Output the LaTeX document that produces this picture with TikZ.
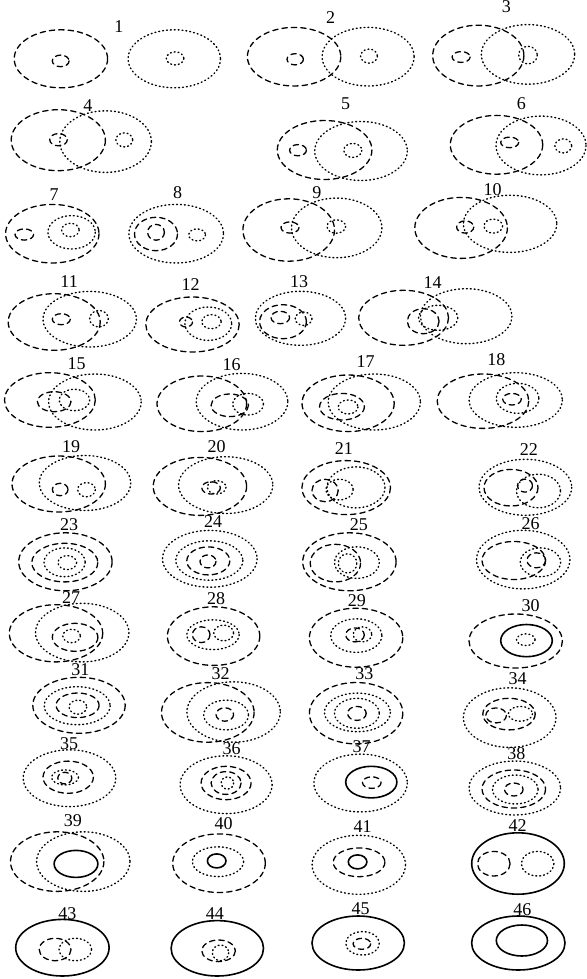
\documentclass[tikz,border=0pt]{standalone}
\usepackage{fontspec}
\setmainfont{Liberation Serif}
\begin{document}
\begin{tikzpicture}[x=0.5pt,y=-0.5pt,line cap=round,
  dsh/.style={line width=0.65pt,dash pattern=on 2.7pt off 2.0pt},
  dot/.style={line width=0.7pt,dash pattern=on 0.45pt off 1.5pt},
  sld/.style={line width=0.8pt},
  lbl/.style={inner sep=0pt,font=\fontsize{9}{10}\selectfont}]
  \useasboundingbox (0,0) rectangle (586,979);
  % row 1
  \node[lbl] (n1) at (118.8,26.3) {1};
  \draw[dsh] (60.9,58.8) ellipse (46.7 and 29.0);
  \draw[dsh] (60.7,60.9) ellipse (8.4 and 5.8);
  \draw[dot] (174.3,58.8) ellipse (46.2 and 29.0);
  \draw[dot] (175.1,58.4) ellipse (8.8 and 6.5);
  \node[lbl] (n2) at (330.7,17.5) {2};
  \draw[dsh] (294.1,56.7) ellipse (46.7 and 29.3);
  \draw[dsh] (295.2,59.3) ellipse (8.2 and 5.6);
  \draw[dot] (368.1,56.7) ellipse (46.0 and 29.3);
  \draw[dot] (369.0,56.1) ellipse (8.4 and 7.0);
  \node[lbl] (n3) at (506.3,7.0) {3};
  \draw[dsh] (478.3,55.6) ellipse (45.6 and 30.4);
  \draw[dsh] (461.1,57.0) ellipse (9.0 and 5.4);
  \draw[dot] (528.0,54.4) ellipse (46.7 and 29.8);
  \draw[dot] (528.0,55.1) ellipse (9.3 and 8.8);
  % row 2
  \node[lbl] (n4) at (87.8,105.5) {4};
  \draw[dsh] (58.3,140.2) ellipse (47.1 and 30.5);
  \draw[dsh] (58.5,139.7) ellipse (8.8 and 6.1);
  \draw[dot] (105.6,141.6) ellipse (45.8 and 30.8);
  \draw[dot] (124.3,139.9) ellipse (8.4 and 7.0);
  \node[lbl] (n5) at (345.7,103.8) {5};
  \draw[dsh] (324.6,150.0) ellipse (47.3 and 29.5);
  \draw[dsh] (298.0,150.2) ellipse (8.4 and 5.6);
  \draw[dot] (361.0,151.0) ellipse (46.3 and 29.5);
  \draw[dot] (352.8,150.4) ellipse (9.0 and 7.0);
  \node[lbl] (n6) at (521.3,103.8) {6};
  \draw[dsh] (496.5,144.8) ellipse (46.2 and 29.4);
  \draw[dsh] (509.7,142.4) ellipse (9.0 and 5.3);
  \draw[dot] (541.0,145.5) ellipse (45.0 and 29.4);
  \draw[dot] (563.3,145.9) ellipse (8.4 and 7.0);
  % row 3
  \node[lbl] (n7) at (54.2,194.5) {7};
  \draw[dsh] (52.3,233.7) ellipse (46.7 and 29.3);
  \draw[dsh] (24.3,234.5) ellipse (9.3 and 5.6);
  \draw[dot] (71.6,232.3) ellipse (23.7 and 16.7);
  \draw[dot] (70.4,230.0) ellipse (8.8 and 6.7);
  \node[lbl] (n8) at (177.5,192.8) {8};
  \draw[dot] (176.2,233.7) ellipse (47.3 and 29.3);
  \draw[dsh] (156.0,234.0) ellipse (21.5 and 16.7);
  \draw[dsh] (156.0,232.3) ellipse (8.4 and 7.9);
  \draw[dot] (197.1,234.9) ellipse (8.4 and 6.0);
  \node[lbl] (n9) at (316.9,192.8) {9};
  \draw[dsh] (288.7,230.0) ellipse (45.8 and 31.2);
  \draw[dsh] (290.0,227.5) ellipse (9.0 and 5.6);
  \draw[dot] (336.7,227.9) ellipse (45.2 and 29.8);
  \draw[dot] (336.3,226.5) ellipse (9.3 and 6.7);
  \node[lbl] (n10) at (492.5,189.3) {10};
  \draw[dsh] (461.1,227.9) ellipse (46.3 and 30.5);
  \draw[dsh] (465.2,227.0) ellipse (8.6 and 6.1);
  \draw[dot] (510.1,223.8) ellipse (46.7 and 28.6);
  \draw[dot] (493.3,226.1) ellipse (9.3 and 7.0);
  % row 4
  \node[lbl] (n11) at (69.1,281.3) {11};
  \draw[dsh] (54.2,322.0) ellipse (46.0 and 28.3);
  \draw[dsh] (61.3,319.2) ellipse (9.0 and 5.5);
  \draw[dot] (89.7,319.2) ellipse (46.7 and 27.8);
  \draw[dot] (99.0,318.7) ellipse (9.3 and 8.3);
  \node[lbl] (n12) at (190.6,284.7) {12};
  \draw[dsh] (192.5,324.5) ellipse (46.7 and 27.5);
  \draw[dsh] (186.0,322.0) ellipse (6.5 and 5.0);
  \draw[dot] (208.3,323.7) ellipse (23.4 and 16.7);
  \draw[dot] (211.5,321.7) ellipse (9.7 and 7.0);
  \node[lbl] (n13) at (299.0,281.3) {13};
  \draw[dot] (300.5,318.3) ellipse (45.2 and 27.0);
  \draw[dsh] (283.0,321.7) ellipse (23.4 and 17.0);
  \draw[dsh] (280.3,317.5) ellipse (9.3 and 6.2);
  \draw[dot] (303.6,318.7) ellipse (8.4 and 6.7);
  \node[lbl] (n14) at (432.7,282.7) {14};
  \draw[dsh] (403.6,317.8) ellipse (44.9 and 27.5);
  \draw[dot] (466.2,316.2) ellipse (45.8 and 27.5);
  \draw[dsh] (423.2,321.2) ellipse (15.9 and 12.5);
  \draw[dot] (438.2,317.8) ellipse (19.6 and 12.5);
  % row 5
  \node[lbl] (n15) at (76.6,363.3) {15};
  \draw[dsh] (49.9,400.0) ellipse (45.4 and 27.3);
  \draw[dot] (94.9,402.0) ellipse (46.3 and 28.0);
  \draw[dsh] (54.2,401.7) ellipse (16.8 and 10.0);
  \draw[dot] (74.4,400.0) ellipse (15.3 and 10.7);
  \node[lbl] (n16) at (231.7,365.0) {16};
  \draw[dsh] (201.8,403.8) ellipse (44.8 and 27.8);
  \draw[dot] (242.0,401.7) ellipse (45.8 and 28.3);
  \draw[dsh] (229.8,405.3) ellipse (18.7 and 11.3);
  \draw[dot] (248.0,404.2) ellipse (15.5 and 10.8);
  \node[lbl] (n17) at (365.5,361.7) {17};
  \draw[dsh] (348.1,403.3) ellipse (46.1 and 28.3);
  \draw[dot] (374.3,402.0) ellipse (46.1 and 28.0);
  \draw[dsh] (342.0,406.7) ellipse (22.4 and 13.3);
  \draw[dot] (348.1,407.0) ellipse (9.9 and 7.0);
  \node[lbl] (n18) at (496.3,360.0) {18};
  \draw[dsh] (483.0,401.2) ellipse (45.8 and 27.2);
  \draw[dot] (515.7,400.0) ellipse (46.7 and 27.3);
  \draw[dot] (517.6,398.3) ellipse (21.3 and 15.0);
  \draw[dsh] (512.0,399.2) ellipse (9.3 and 5.8);
  % row 6
  \node[lbl] (n19) at (71.0,446.5) {19};
  \draw[dsh] (58.7,484.0) ellipse (46.7 and 28.0);
  \draw[dot] (85.0,483.0) ellipse (45.8 and 27.5);
  \draw[dsh] (60.2,489.5) ellipse (7.8 and 6.2);
  \draw[dot] (86.5,489.7) ellipse (8.8 and 7.1);
  \node[lbl] (n20) at (216.7,446.2) {20};
  \draw[dsh] (199.9,486.4) ellipse (46.7 and 29.0);
  \draw[dot] (225.7,485.1) ellipse (47.1 and 28.4);
  \draw[dsh] (211.1,487.9) ellipse (9.3 and 6.2);
  \draw[dot] (216.7,487.3) ellipse (9.3 and 6.7);
  \node[lbl] (n21) at (343.8,449.0) {21};
  \draw[dsh] (346.2,487.6) ellipse (44.3 and 27.0);
  \draw[dot] (356.0,487.4) ellipse (29.0 and 20.5);
  \draw[dsh] (325.1,490.5) ellipse (13.1 and 11.2);
  \draw[dot] (339.5,489.6) ellipse (13.7 and 10.3);
  \node[lbl] (n22) at (528.8,450.0) {22};
  \draw[dot] (525.4,487.3) ellipse (46.3 and 28.0);
  \draw[dsh] (511.0,487.7) ellipse (27.0 and 18.3);
  \draw[dot] (538.5,491.0) ellipse (22.0 and 16.8);
  \draw[dsh] (525.0,485.6) ellipse (7.5 and 6.5);
  % row 7
  \node[lbl] (n23) at (69.1,524.7) {23};
  \draw[dsh] (65.4,561.8) ellipse (46.7 and 29.0);
  \draw[dsh] (64.8,562.6) ellipse (33.0 and 19.3);
  \draw[dot] (64.6,562.3) ellipse (20.6 and 14.4);
  \draw[dot] (67.3,562.6) ellipse (9.3 and 7.0);
  \node[lbl] (n24) at (213.0,521.2) {24};
  \draw[dot] (209.8,558.8) ellipse (47.3 and 28.4);
  \draw[dot] (209.3,560.5) ellipse (33.6 and 19.7);
  \draw[dsh] (208.3,560.9) ellipse (21.5 and 14.0);
  \draw[dsh] (208.0,561.4) ellipse (8.0 and 6.5);
  \node[lbl] (n25) at (358.8,524.7) {25};
  \draw[dsh] (349.4,561.8) ellipse (46.7 and 29.0);
  \draw[dsh] (335.4,563.1) ellipse (25.2 and 18.8);
  \draw[dot] (356.9,562.6) ellipse (22.4 and 15.8);
  \draw[dot] (347.5,563.4) ellipse (9.3 and 9.6);
  \node[lbl] (n26) at (530.7,523.3) {26};
  \draw[dot] (523.2,559.6) ellipse (46.7 and 29.3);
  \draw[dsh] (513.8,560.5) ellipse (31.8 and 19.0);
  \draw[dot] (540.4,562.3) ellipse (20.2 and 14.4);
  \draw[dsh] (536.3,560.3) ellipse (9.3 and 7.5);
  % row 8
  \node[lbl] (n27) at (71.0,597.7) {27};
  \draw[dsh] (56.0,633.3) ellipse (46.7 and 28.6);
  \draw[dot] (82.2,632.6) ellipse (46.7 and 29.3);
  \draw[dsh] (75.1,637.3) ellipse (22.8 and 14.0);
  \draw[dot] (71.6,636.0) ellipse (8.8 and 6.7);
  \node[lbl] (n28) at (216.0,598.8) {28};
  \draw[dsh] (213.6,636.1) ellipse (46.2 and 29.3);
  \draw[dot] (213.0,634.7) ellipse (26.2 and 14.9);
  \draw[dsh] (201.2,634.7) ellipse (8.8 and 7.9);
  \draw[dot] (223.7,633.0) ellipse (9.9 and 7.9);
  \node[lbl] (n29) at (356.9,600.5) {29};
  \draw[dsh] (356.1,637.7) ellipse (46.7 and 29.5);
  \draw[dot] (356.3,635.6) ellipse (25.6 and 16.8);
  \draw[dsh] (355.0,634.9) ellipse (9.3 and 7.0);
  \draw[dot] (362.5,634.4) ellipse (9.3 and 7.5);
  \node[lbl] (n30) at (530.7,605.8) {30};
  \draw[dsh] (515.7,641.0) ellipse (46.7 and 27.0);
  \draw[sld] (526.5,640.6) ellipse (25.8 and 16.1);
  \draw[dot] (525.8,639.7) ellipse (9.3 and 5.8);
  % row 9
  \node[lbl] (n31) at (80.3,670.0) {31};
  \draw[dsh] (79.0,705.3) ellipse (46.2 and 28.0);
  \draw[dot] (77.2,705.7) ellipse (33.0 and 19.0);
  \draw[dsh] (77.6,705.3) ellipse (21.5 and 12.3);
  \draw[dot] (77.9,707.1) ellipse (8.8 and 7.0);
  \node[lbl] (n32) at (220.5,673.8) {32};
  \draw[dsh] (207.8,712.4) ellipse (46.3 and 29.8);
  \draw[dot] (233.6,712.0) ellipse (46.7 and 30.2);
  \draw[dot] (226.1,715.0) ellipse (22.4 and 14.9);
  \draw[dsh] (224.8,714.5) ellipse (8.8 and 6.7);
  \node[lbl] (n33) at (364.4,673.8) {33};
  \draw[dsh] (356.1,713.2) ellipse (46.7 and 30.7);
  \draw[dot] (357.4,712.4) ellipse (33.0 and 19.3);
  \draw[dot] (356.9,713.3) ellipse (22.4 and 15.0);
  \draw[dsh] (356.9,713.4) ellipse (9.3 and 7.0);
  \node[lbl] (n34) at (517.6,679.0) {34};
  \draw[dot] (509.7,717.6) ellipse (46.3 and 29.8);
  \draw[dsh] (509.0,714.1) ellipse (26.2 and 15.8);
  \draw[dsh] (496.1,715.4) ellipse (10.3 and 7.5);
  \draw[dot] (520.4,713.8) ellipse (12.1 and 7.4);
  % row 10
  \node[lbl] (n35) at (69.1,744.0) {35};
  \draw[dot] (69.5,778.2) ellipse (46.3 and 28.4);
  \draw[dsh] (68.2,777.2) ellipse (25.2 and 16.1);
  \draw[dot] (65.0,777.4) ellipse (13.5 and 7.5);
  \draw[dsh] (64.8,778.1) ellipse (7.0 and 5.8);
  \node[lbl] (n36) at (231.7,748.8) {36};
  \draw[dot] (226.1,784.7) ellipse (46.0 and 28.9);
  \draw[dsh] (226.1,783.0) ellipse (25.0 and 16.7);
  \draw[dsh] (226.1,783.0) ellipse (15.0 and 11.4);
  \draw[dot] (227.4,783.0) ellipse (6.2 and 6.1);
  \node[lbl] (n37) at (361.7,747.0) {37};
  \draw[dot] (360.6,783.0) ellipse (46.7 and 28.9);
  \draw[sld] (371.3,782.1) ellipse (25.6 and 15.8);
  \draw[dsh] (371.8,782.6) ellipse (9.3 and 5.8);
  \node[lbl] (n38) at (516.4,753.3) {38};
  \draw[dot] (514.8,788.0) ellipse (45.8 and 27.0);
  \draw[dsh] (513.8,789.0) ellipse (31.8 and 19.0);
  \draw[dot] (515.3,789.5) ellipse (22.8 and 14.5);
  \draw[dsh] (513.8,789.5) ellipse (9.3 and 6.5);
  % row 11
  \node[lbl] (n39) at (72.9,820.5) {39};
  \draw[dsh] (57.2,861.6) ellipse (46.7 and 29.8);
  \draw[dot] (83.3,861.6) ellipse (46.7 and 29.8);
  \draw[sld] (76.0,863.9) ellipse (21.9 and 13.5);
  \node[lbl] (n40) at (223.5,824.0) {40};
  \draw[dsh] (219.0,863.2) ellipse (46.3 and 29.3);
  \draw[dot] (218.0,861.7) ellipse (25.6 and 14.9);
  \draw[sld] (216.7,860.9) ellipse (9.3 and 7.0);
  \node[lbl] (n41) at (362.5,826.8) {41};
  \draw[dot] (358.8,864.8) ellipse (46.7 and 29.5);
  \draw[dsh] (359.1,862.3) ellipse (25.8 and 14.4);
  \draw[sld] (357.6,861.9) ellipse (9.3 and 7.0);
  \node[lbl] (n42) at (517.6,826.0) {42};
  \draw[sld] (518.0,863.5) ellipse (46.3 and 30.7);
  \draw[dsh] (493.8,863.7) ellipse (16.3 and 12.3);
  \draw[dot] (537.6,863.7) ellipse (16.3 and 12.3);
  % row 12
  \node[lbl] (n43) at (67.3,914.0) {43};
  \draw[sld] (62.4,947.7) ellipse (46.7 and 28.3);
  \draw[dsh] (55.1,949.5) ellipse (15.9 and 11.2);
  \draw[dot] (75.3,949.5) ellipse (16.3 and 11.2);
  \node[lbl] (n44) at (214.9,914.0) {44};
  \draw[sld] (217.3,948.3) ellipse (46.2 and 27.7);
  \draw[dsh] (218.6,950.8) ellipse (16.8 and 10.8);
  \draw[dot] (220.5,952.8) ellipse (8.2 and 7.8);
  \node[lbl] (n45) at (360.6,908.3) {45};
  \draw[sld] (358.2,943.0) ellipse (46.2 and 27.0);
  \draw[dot] (362.5,943.3) ellipse (16.8 and 11.7);
  \draw[dsh] (361.9,943.8) ellipse (8.8 and 5.5);
  \node[lbl] (n46) at (522.4,909.3) {46};
  \draw[sld] (518.3,943.0) ellipse (46.7 and 27.0);
  \draw[sld] (521.9,940.5) ellipse (25.6 and 15.5);
\end{tikzpicture}
\end{document}
